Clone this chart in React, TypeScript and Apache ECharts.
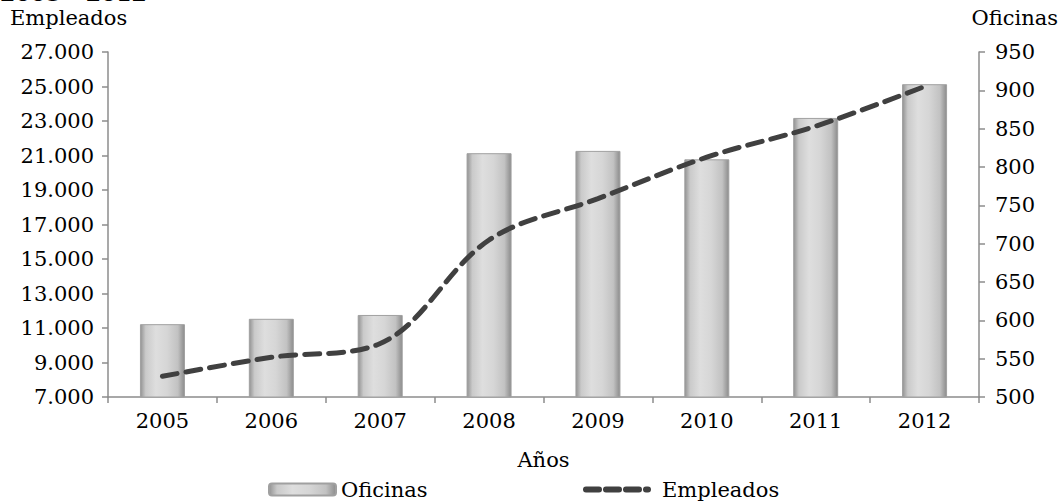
import React, { useEffect, useRef } from "react";
import * as echarts from "echarts";

const years = ["2005", "2006", "2007", "2008", "2009", "2010", "2011", "2012"];
const oficinas = [595, 602, 607, 818, 821, 810, 864, 908];
const empleados = [8200, 9300, 10100, 16100, 18500, 20900, 22700, 25000];

const FONT = "DejaVu Serif";
const FS = 21;
const fmtMiles = (v: number) => {
  const s = String(Math.round(v));
  return s.replace(/\B(?=(\d{3})+(?!\d))/g, ".");
};

export default function App() {
  const ref = useRef<HTMLDivElement>(null);
  useEffect(() => {
    if (!ref.current) return;
    const chart = echarts.init(ref.current, undefined, { renderer: "svg" });
    const barGrad = new echarts.graphic.LinearGradient(0, 0, 1, 0, [
      { offset: 0, color: "#939393" },
      { offset: 0.12, color: "#cacaca" },
      { offset: 0.35, color: "#dedede" },
      { offset: 0.6, color: "#d6d6d6" },
      { offset: 0.85, color: "#c2c2c2" },
      { offset: 1, color: "#8c8c8c" },
    ]);
    const axisColor = "#8c8c8c";
    const dash = { color: "#404040", width: 5, type: [15, 9], cap: "round" };
    chart.setOption({
      animation: false,
      textStyle: { fontFamily: FONT, color: "#000" },
      grid: { left: 108, right: 82, top: 52, bottom: 105 },
      legend: [
        {
          data: ["Oficinas"],
          left: 263,
          top: 474,
          itemWidth: 67,
          itemHeight: 12,
          itemGap: 5,
          textStyle: { fontFamily: FONT, fontSize: FS, color: "#000" },
        },
        {
          data: ["Empleados"],
          left: 578,
          top: 474,
          itemWidth: 62,
          itemHeight: 12,
          itemStyle: { opacity: 0 },
          lineStyle: { color: "#404040", width: 6, type: [13, 7], cap: "round" },
          textStyle: { fontFamily: FONT, fontSize: FS, color: "#000", padding: [0, 0, 0, 9] },
        },
      ],
      xAxis: {
        type: "category",
        data: years,
        axisLine: { lineStyle: { color: axisColor, width: 1.5 } },
        axisTick: { show: true, alignWithLabel: false, length: 6, lineStyle: { color: axisColor, width: 1.5 } },
        axisLabel: { fontFamily: FONT, fontSize: FS, color: "#000", margin: 13 },
        name: "Años",
        nameLocation: "middle",
        nameGap: 52,
        nameTextStyle: { fontFamily: FONT, fontSize: FS, color: "#000" },
      },
      yAxis: [
        {
          type: "value",
          min: 7000,
          max: 27000,
          interval: 2000,
          splitLine: { show: false },
          axisLine: { show: true, lineStyle: { color: axisColor, width: 1.5 } },
          axisTick: { show: true, length: 6, lineStyle: { color: axisColor, width: 1.5 } },
          axisLabel: { fontFamily: FONT, fontSize: FS, color: "#000", margin: 14, formatter: fmtMiles },
        },
        {
          type: "value",
          min: 500,
          max: 950,
          interval: 50,
          position: "right",
          splitLine: { show: false },
          axisLine: { show: true, lineStyle: { color: axisColor, width: 1.5 } },
          axisTick: { show: true, length: 6, lineStyle: { color: axisColor, width: 1.5 } },
          axisLabel: { fontFamily: FONT, fontSize: FS, color: "#000", margin: 16 },
        },
      ],
      series: [
        {
          name: "Oficinas",
          type: "bar",
          yAxisIndex: 1,
          data: oficinas,
          barWidth: 45,
          itemStyle: { color: barGrad, borderColor: "#a0a0a0", borderWidth: 1 },
        },
        {
          name: "Empleados",
          type: "line",
          yAxisIndex: 0,
          data: empleados,
          smooth: 0.35,
          symbol: "none",
          lineStyle: dash,
          itemStyle: { color: "#404040" },
        },
      ],
      graphic: [
        {
          type: "text",
          left: 10,
          top: 7,
          style: { text: "Empleados", font: `${FS}px "${FONT}"`, fill: "#000" },
        },
        {
          type: "text",
          right: 3,
          top: 7,
          style: { text: "Oficinas", font: `${FS}px "${FONT}"`, fill: "#000" },
        },
        {
          type: "text",
          x: 0,
          y: -18,
          style: { text: "2005 - 2012", font: `bold 22px "${FONT}"`, fill: "#000" },
        },
      ],
    });
    return () => chart.dispose();
  }, []);
  return (
    <div
      ref={ref}
      style={{ position: "fixed", left: 0, top: 0, width: 1061, height: 502, background: "#fff" }}
    />
  );
}
